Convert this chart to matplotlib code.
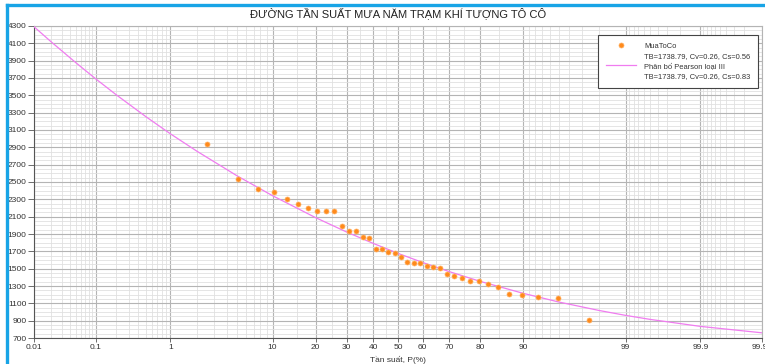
from statistics import NormalDist
import numpy as np
import matplotlib
matplotlib.use('Agg')
import matplotlib.pyplot as plt
from matplotlib.lines import Line2D

plt.rcParams['font.family'] = ['Liberation Sans', 'DejaVu Sans']

# Observed annual rainfall (sorted) and their empirical frequencies P(%)
obs_p = [2.56, 5.13, 7.69, 10.26, 12.82, 15.38, 17.95, 20.51, 23.08, 25.64,
         28.21, 30.77, 33.33, 35.90, 38.46, 41.03, 43.59, 46.15, 48.72, 51.28,
         53.85, 56.41, 58.97, 61.54, 64.10, 66.67, 69.23, 71.79, 74.36, 76.92,
         79.49, 82.05, 84.62, 87.18, 89.74, 92.31, 94.87, 97.44]
obs_x = [2935, 2540, 2423, 2389, 2303, 2241, 2195, 2171, 2163, 2163,
         1989, 1939, 1935, 1861, 1849, 1726, 1722, 1698, 1680, 1640,
         1582, 1567, 1567, 1532, 1524, 1513, 1439, 1416, 1389, 1362,
         1358, 1320, 1292, 1203, 1199, 1176, 1164, 908]

# Pearson III curve read at selected frequencies
curve_p = [0.01, 0.02, 0.05, 0.1, 0.2, 0.5, 1, 2, 5, 10, 20, 30, 40, 50,
           60, 70, 80, 90, 95, 98, 99, 99.5, 99.9, 99.99]
curve_x = [4292, 4114, 3876, 3692, 3506, 3254, 3057, 2855, 2572, 2342,
           2089, 1923, 1792, 1677, 1571, 1466, 1353, 1215, 1115, 1018,
           961, 915, 834, 760]

x_ticks = [0.01, 0.1, 1, 10, 20, 30, 40, 50, 60, 70, 80, 90, 99, 99.9, 99.99]
x_tick_labels = ['0.01', '0.1', '1', '10', '20', '30', '40', '50', '60',
                 '70', '80', '90', '99', '99.9', '99.99']
y_ticks = list(range(700, 4301, 200))

title = 'ĐƯỜNG TẦN SUẤT MƯA NĂM TRẠM KHÍ TƯỢNG TÔ CÔ'
obs_label = ['MuaToCo', 'TB=1738.79, Cv=0.26, Cs=0.56']
curve_label = ['Phân bố Pearson loại III', 'TB=1738.79, Cv=0.26, Cs=0.83']

_nd = NormalDist()
_ppf = np.vectorize(lambda p: _nd.inv_cdf(p))
_cdf = np.vectorize(lambda z: _nd.cdf(z))


def prob_forward(p):
    p = np.clip(np.asarray(p, dtype=float) / 100.0, 1e-9, 1 - 1e-9)
    return _ppf(p)


def prob_inverse(z):
    return _cdf(np.asarray(z, dtype=float)) * 100.0


fig = plt.figure(figsize=(7.65, 3.64), dpi=100)
ax = fig.add_axes([0.0444, 0.0714, 0.9516, 0.8572])
ax.set_xscale('function', functions=(prob_forward, prob_inverse))
ax.set_xlim(0.01, 99.99)
ax.set_ylim(700, 4300)

# grid
minor_x = ([i / 100 for i in range(2, 10)] + [i / 10 for i in range(2, 10)] +
           list(range(2, 10)) + [15, 25, 35, 45, 55, 65, 75, 85] +
           [91, 92, 93, 94, 95, 96, 97, 98] +
           [99 + i / 10 for i in range(1, 9)] +
           [99.9 + i / 100 for i in range(1, 9)])
ax.set_xticks(x_ticks)
ax.set_xticklabels(x_tick_labels)
ax.set_xticks(minor_x, minor=True)
ax.set_yticks(y_ticks)
ax.set_yticks(list(range(700, 4301, 50)), minor=True)
ax.grid(which='major', color='#b4b4b4', linewidth=0.8)
ax.grid(which='minor', color='#e0e0e0', linewidth=0.6)
ax.set_axisbelow(True)
ax.tick_params(which='minor', length=0)
ax.tick_params(which='major', length=4, width=0.6, color='#555555',
               labelsize=6, labelcolor='#333333', pad=1.5)
ax.tick_params(axis='x', length=3, pad=1)
for side in ['left', 'bottom']:
    ax.spines[side].set_color('#555555')
    ax.spines[side].set_linewidth(0.8)
for side in ['top', 'right']:
    ax.spines[side].set_color('#b4b4b4')
    ax.spines[side].set_linewidth(0.8)

ax.plot(curve_p, curve_x, color='#f07cf0', linewidth=0.9, zorder=3)
ax.plot(obs_p, obs_x, linestyle='none', marker='o', markersize=3.6,
        markerfacecolor='#ff8a1c', markeredgecolor='#ffb060',
        markeredgewidth=0.5, zorder=4)

fig.text(0.52, 1 - 360 / 364, 'Tần suất, P(%)', ha='center', va='center',
         fontsize=6, color='#333333')

# legend: one row per text line so handles sit on the first line
blank = Line2D([], [], linestyle='none')
handles = [Line2D([], [], linestyle='none', marker='o', markersize=3.6,
                  markerfacecolor='#ff8a1c', markeredgecolor='#ffb060',
                  markeredgewidth=0.5),
           blank,
           Line2D([], [], color='#f07cf0', linewidth=0.9),
           blank]
labels = [obs_label[0], obs_label[1], curve_label[0], curve_label[1]]
leg = ax.legend(handles, labels, loc='upper right',
                bbox_to_anchor=(0.9945, 0.971), borderaxespad=0,
                fontsize=5.4, labelspacing=0.38, handlelength=4.0,
                handletextpad=1.1, borderpad=1.0, fancybox=False,
                framealpha=1, edgecolor='#444444')
leg.get_frame().set_linewidth(0.8)
for t in leg.get_texts():
    t.set_color('#333333')

fig.text(0.52, 1 - 13 / 364, title, ha='center', va='center',
         fontsize=8, color='#222222')

# blue frame of the screenshot
fig.add_artist(Line2D([0.0085, 0.0085], [0, 0.985], color='#18a4e6',
                      linewidth=2.4, transform=fig.transFigure))
fig.add_artist(Line2D([0.0085, 1], [0.985, 0.985], color='#18a4e6',
                      linewidth=2.4, transform=fig.transFigure))

fig.savefig('out.png', dpi=100)
